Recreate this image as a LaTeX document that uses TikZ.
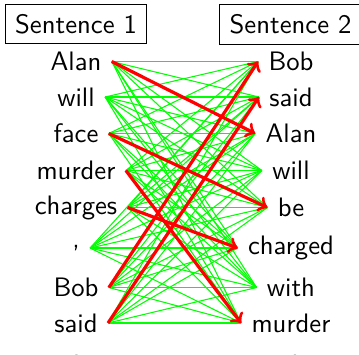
\documentclass[tikz,border=0pt]{standalone}
\usetikzlibrary{arrows}
\begin{document}
\begin{tikzpicture}[x=0.3745pt,y=-0.3745pt,
  word/.style={font=\sffamily, inner sep=3.7pt, anchor=center},
  header/.style={font=\sffamily, draw, inner sep=3.7pt, line width=0.4pt},
  link/.style={green, line width=0.4pt},
  align/.style={red, line width=1.2pt, ->}]
\useasboundingbox (0,0) rectangle (359,354);
\node[header] (h1) at (76,24) {Sentence 1};
\node[header] (h2) at (290.5,24.5) {Sentence 2};
\foreach \n/\t/\y in {1/Alan/61.5, 2/will/97, 3/face/133.5, 4/murder/170.5, 5/charges/207.5, 6/{,}/248, 7/Bob/287.5, 8/said/323}
  \node[word] (l\n) at (76,\y) {\t};
\foreach \n/\t/\y in {1/Bob/61.5, 2/said/97, 3/Alan/133.5, 4/will/170.5, 5/be/207.5, 6/charged/248, 7/with/287.5, 8/murder/323}
  \node[word] (r\n) at (291,\y) {\t};
\node[word, anchor=base] (l9) at (76.7,357) {.};
\node[word, anchor=base] (r9) at (295,357) {.};
\foreach \i in {1,...,8}
  \foreach \j in {1,...,8}
    \draw[link] (l\i.east) -- (r\j.west);
\draw[align] (l1.east) -- (r3.west);
\draw[align] (l3.east) -- (r5.west);
\draw[align] (l4.east) -- (r8.west);
\draw[align] (l5.east) -- (r6.west);
\draw[align] (l7.east) -- (r1.west);
\draw[align] (l8.east) -- (r2.west);
\end{tikzpicture}
\end{document}
